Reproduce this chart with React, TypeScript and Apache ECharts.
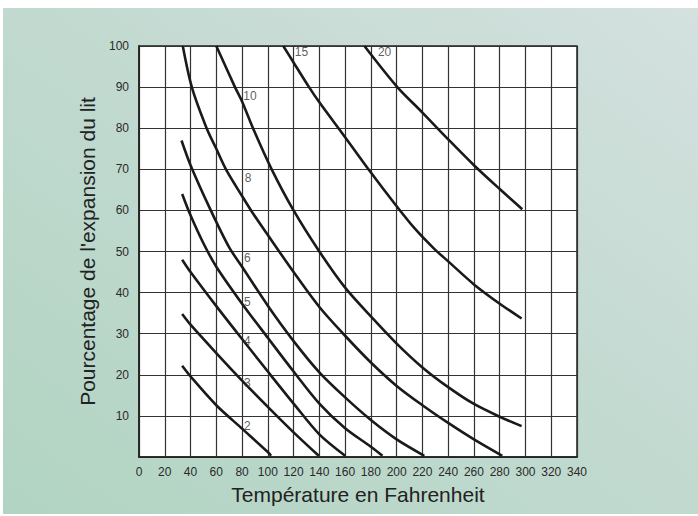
import React, { useEffect, useRef } from "react";
import * as echarts from "echarts";

// Temperature (°F) vs bed expansion (%) curves, one per backwash rate
const curve2 = [[33.5, 22.2], [40, 19.6], [60, 12.6], [80, 6.9], [100, 1.2], [102.5, 0.3]];
const curve3 = [[33.5, 34.8], [40, 32.2], [60, 25.3], [80, 18.6], [100, 12.2], [120, 6], [139.5, 0.3]];
const curve4 = [[33.5, 48], [40, 45], [60, 36.7], [80, 28.7], [100, 20.8], [120, 13], [140, 5.5], [160, 0.3]];
const curve5 = [[33.5, 64], [40, 58.8], [50, 52], [60, 46.3], [80, 37.3], [100, 29], [120, 20.8], [140, 13], [160, 7], [180, 2.5], [189, 0.3]];
const curve6 = [[33, 77], [40, 71], [55, 60.5], [70, 51], [80, 46.3], [100, 36.8], [120, 28.2], [140, 20.6], [160, 14.5], [180, 9], [200, 4.3], [221.5, 0.3]];
const curve8 = [[34, 100], [41, 90], [52.5, 80], [60, 75], [67.5, 70], [80, 63.5], [88, 59.5], [100, 54], [120, 45], [140, 36.5], [160, 29.5], [180, 23], [200, 17.3], [220, 12.6], [240, 8.3], [260, 4.3], [282, 0.3]];
const curve10 = [[60, 100], [74.5, 90], [80, 86.5], [88.5, 80], [103, 70], [120, 60], [140, 50], [160, 41.2], [180, 34.2], [200, 27.6], [220, 21.8], [240, 17], [260, 12.9], [280, 9.8], [297, 7.5]];
const curve15 = [[112, 100], [120, 96], [132, 90], [140, 86.3], [160, 77.8], [180, 69.2], [200, 61], [214, 55.6], [229, 50.7], [240, 47.6], [260, 42], [280, 37.3], [297, 33.7]];
const curve20 = [[175, 100], [200, 90.2], [220, 83.8], [240, 77.3], [260, 71], [280, 65.2], [297.5, 60.3]];

const curveNames = ["2", "3", "4", "5", "6", "8", "10", "15", "20"];
const curves = [curve2, curve3, curve4, curve5, curve6, curve8, curve10, curve15, curve20];

// label anchor points (data coordinates) for each curve's name
const labelT = [84.5, 84.5, 84.5, 84.5, 84.5, 85, 86.5, 126.5, 191];
const labelE = [7.4, 18, 28, 37.6, 48.2, 67.7, 87.6, 98.3, 98.3];

const xTicksMin = 0;
const xTicksMax = 340;
const xStep = 20;
const yTicksMin = 0;
const yTicksMax = 100;
const yStep = 10;

const xTitle = "Température en Fahrenheit";
const yTitle = "Pourcentage de l'expansion du lit";

const FONT = "'Liberation Sans', Arial, Helvetica, sans-serif";

export default function App() {
  const ref = useRef<HTMLDivElement>(null);

  useEffect(() => {
    if (!ref.current) return;
    const chart = echarts.init(ref.current, null, { renderer: "svg" });

    const lineSeries = curves.map((c, i) => ({
      name: curveNames[i],
      type: "line",
      data: c,
      smooth: 0.3,
      showSymbol: false,
      symbol: "none",
      clip: true,
      lineStyle: { color: "#1a1a1a", width: 2.6 },
      z: 3,
    }));

    const labelStyle = {
      show: true,
      position: [0, 0],
      align: "center",
      verticalAlign: "middle",
      formatter: (p: any) => p.name,
      color: "#333333",
      textBorderWidth: 0,
      fontSize: 12,
      fontFamily: FONT,
    };

    const labelSeries = {
      type: "scatter",
      symbolSize: 1,
      silent: true,
      color: "#333333",
      itemStyle: { color: "rgba(0,0,0,0)" },
      data: curveNames.map((n, i) => ({
        value: [labelT[i], labelE[i]],
        name: n,
        label: { color: "#333333" },
      })),
      label: labelStyle,
      z: 4,
    };

    chart.setOption({
      animation: false,
      grid: {
        left: 139,
        right: 121,
        top: 46,
        bottom: 59,
        show: true,
        backgroundColor: "#ffffff",
        borderColor: "#222",
        borderWidth: 1.5,
      },
      xAxis: {
        type: "value",
        min: xTicksMin,
        max: xTicksMax,
        interval: xStep,
        name: xTitle,
        nameLocation: "middle",
        nameGap: 27,
        nameTextStyle: { fontSize: 21, color: "#222", fontFamily: FONT },
        axisLine: { show: true, lineStyle: { color: "#222", width: 1.5 } },
        axisTick: { show: false },
        axisLabel: { color: "#2a2a2a", fontSize: 12, margin: 9, fontFamily: FONT },
        splitLine: { show: true, lineStyle: { color: "#333", width: 1.2 } },
      },
      yAxis: {
        type: "value",
        min: yTicksMin,
        max: yTicksMax,
        interval: yStep,
        name: yTitle,
        nameLocation: "middle",
        nameGap: 39,
        nameTextStyle: { fontSize: 21, color: "#222", fontFamily: FONT },
        axisLine: { show: true, lineStyle: { color: "#222", width: 1.5 } },
        axisTick: { show: false },
        axisLabel: {
          color: "#2a2a2a",
          fontSize: 12,
          margin: 10,
          fontFamily: FONT,
          formatter: (v: number) => (v === 0 ? "" : String(v)),
        },
        splitLine: { show: true, lineStyle: { color: "#333", width: 1.2 } },
      },
      series: [...lineSeries, labelSeries],
    });

    return () => chart.dispose();
  }, []);

  return (
    <div style={{ position: "fixed", left: 0, top: 0, width: 698, height: 516, background: "#ffffff" }}>
      <div
        style={{
          position: "absolute",
          left: 3,
          top: 8,
          width: 695,
          height: 506,
          background: "linear-gradient(to bottom left, #d4e1df 0%, #c3dad1 45%, #b1d4c2 100%)",
        }}
      />
      <div ref={ref} style={{ position: "absolute", left: 0, top: 0, width: 698, height: 516 }} />
    </div>
  );
}
